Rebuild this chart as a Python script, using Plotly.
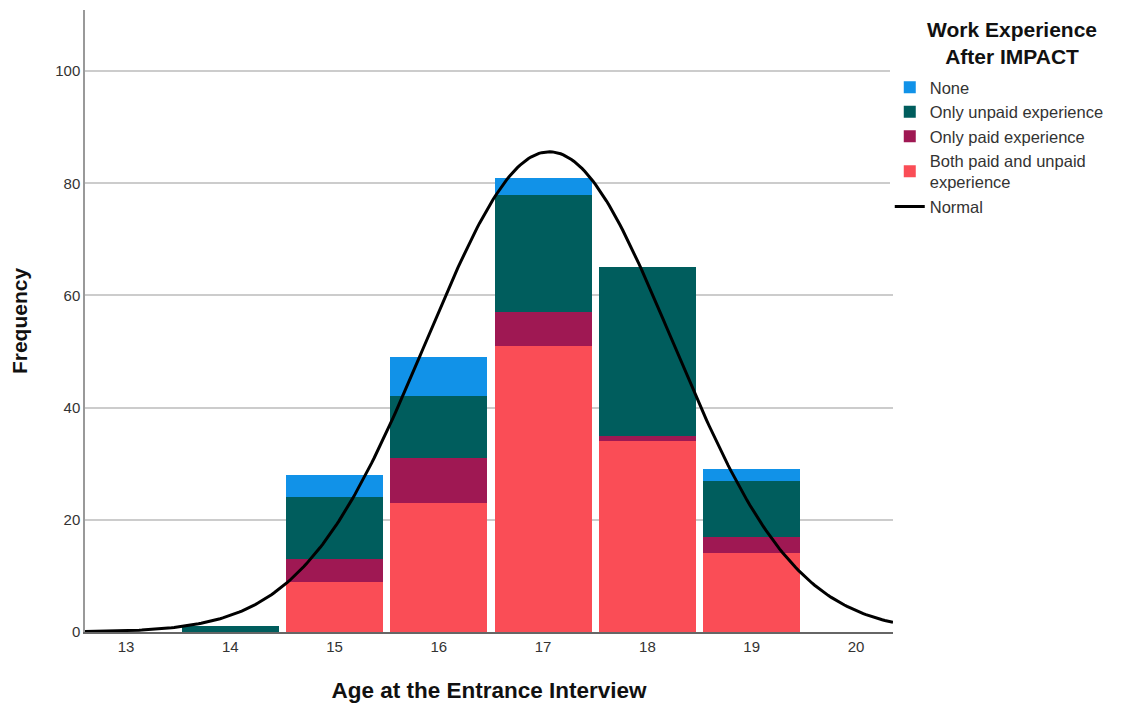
import numpy as np
import plotly.graph_objects as go

ages = [14, 15, 16, 17, 18, 19]
both_paid_unpaid = [0, 9, 23, 51, 34, 14]
only_paid = [0, 4, 8, 6, 1, 3]
only_unpaid = [1, 11, 11, 21, 30, 10]
none = [0, 4, 7, 3, 0, 2]
tick_vals = [13, 14, 15, 16, 17, 18, 19, 20]
legend_title = "Work Experience<br>After IMPACT"

series = [
    ("Both paid and unpaid<br>experience", both_paid_unpaid, "#fa4d56", 4),
    ("Only paid experience", only_paid, "#9f1853", 3),
    ("Only unpaid experience", only_unpaid, "#005d5d", 2),
    ("None", none, "#1192e8", 1),
]

# Normal curve fitted to the histogram
totals = np.array(both_paid_unpaid) + np.array(only_paid) + np.array(only_unpaid) + np.array(none)
a = np.array(ages, dtype=float)
n = totals.sum()
mean = (a * totals).sum() / n
sd = np.sqrt(((a - mean) ** 2 * totals).sum() / (n - 1))
xs = np.linspace(12.607, 20.355, 300)
ys = n * 1.0 / (sd * np.sqrt(2 * np.pi)) * np.exp(-0.5 * ((xs - mean) / sd) ** 2)

fig = go.Figure()
for name, vals, color, rank in series:
    fig.add_trace(go.Bar(
        x=ages, y=vals, name=name, marker=dict(color=color, line=dict(width=0)),
        width=0.93, legendrank=rank,
    ))
fig.add_trace(go.Scatter(x=xs, y=ys, mode="lines", name="Normal",
                         line=dict(color="black", width=3), legendrank=5))

fig.add_annotation(
    text=f"<b>{legend_title}</b>", xref="paper", yref="paper",
    x=1.1473, y=0.9477, xanchor="center", yanchor="middle", showarrow=False,
    align="center", font=dict(size=21, color="#111"),
)

fig.update_layout(
    barmode="stack",
    width=1122, height=696,
    margin=dict(l=77, r=237, t=2, b=72, autoexpand=False),
    plot_bgcolor="white", paper_bgcolor="white",
    font=dict(family="Liberation Sans, Arial, sans-serif", color="#222"),
    legend=dict(
        traceorder="normal",
        x=0.996, xanchor="left", y=0.9035, yanchor="top",
        font=dict(size=16.5, color="#333"),
        tracegroupgap=0, itemwidth=30,
    ),
    xaxis=dict(
        range=[12.607, 20.355], tickvals=tick_vals, showgrid=False,
        showline=True, linecolor="#666", linewidth=1.5, ticks="",
        tickfont=dict(size=15, color="#333"), zeroline=False, automargin=False,
        title=dict(text="<b>Age at the Entrance Interview</b>", font=dict(size=22.5, color="#111"), standoff=28),
    ),
    yaxis=dict(
        range=[0, 110.9], tickvals=[0, 20, 40, 60, 80, 100], showgrid=True,
        gridcolor="#cccccc", gridwidth=1.5, showline=True, linecolor="#999", linewidth=1.5,
        ticks="", tickfont=dict(size=15, color="#333"), zeroline=False, automargin=False,
        title=dict(text="<b>Frequency</b>", font=dict(size=21, color="#111"), standoff=22),
    ),
    bargap=0,
)

fig.write_html("out.html")
